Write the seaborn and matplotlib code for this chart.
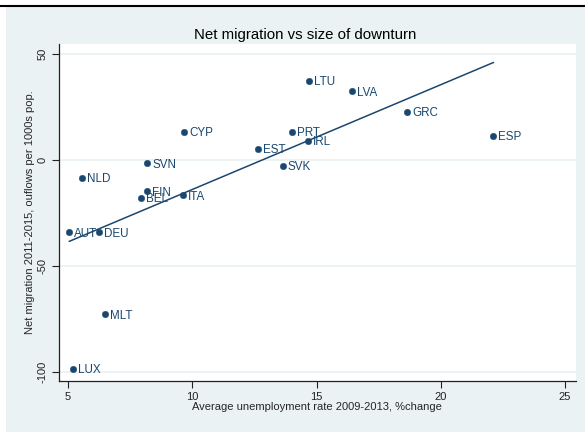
import matplotlib
matplotlib.use("Agg")
import matplotlib.pyplot as plt
from matplotlib.patches import Rectangle
from matplotlib.lines import Line2D
import numpy as np
import pandas as pd
import seaborn as sns

# Country codes, change in average unemployment rate and net migration
countries = ["AUT", "BEL", "CYP", "DEU", "ESP", "EST", "FIN", "GRC", "IRL",
             "ITA", "LTU", "LUX", "LVA", "MLT", "NLD", "PRT", "SVK", "SVN"]
unemp_change = [5.05, 7.92, 9.67, 6.26, 22.12, 12.64, 8.19, 18.65, 14.65,
                9.61, 14.68, 5.19, 16.41, 6.51, 5.56, 14.02, 13.64, 8.19]
net_migration = [-34.2, -18.0, 13.4, -34.2, 11.3, 5.3, -14.8, 22.8, 9.0,
                 -16.7, 37.5, -98.6, 32.5, -72.9, -8.5, 13.4, -2.7, -1.6]

x_ticks = [5, 10, 15, 20, 25]
y_ticks = [-100, -50, 0, 50]

df = pd.DataFrame({"country": countries, "unemp": unemp_change, "netmig": net_migration})

sns.set_style("ticks")
plt.rcParams["font.family"] = ["Liberation Sans", "DejaVu Sans"]

navy = "#1A476F"
bg = "#EAF2F3"

fig = plt.figure(figsize=(5.85, 4.32), dpi=100, facecolor="white")
fig.patches.append(Rectangle((6 / 585, 0), 1 - 6 / 585, (432 - 7) / 432,
                             transform=fig.transFigure, facecolor=bg,
                             edgecolor="none", zorder=-10))
fig.lines.append(Line2D([0, 1], [(432 - 6) / 432] * 2, transform=fig.transFigure,
                        color="black", lw=1.5, zorder=-5))

ax = fig.add_axes([58.5 / 585, 51 / 432, (576 - 58.5) / 585, (381 - 44) / 432])
ax.set_facecolor("white")

for yv in y_ticks:
    ax.axhline(yv, color=bg, lw=1.3, zorder=0)

sns.regplot(data=df, x="unemp", y="netmig", scatter=False, ci=None, ax=ax,
            line_kws=dict(color=navy, lw=1.1), truncate=True)
sns.scatterplot(data=df, x="unemp", y="netmig", ax=ax, color=navy, s=22,
                edgecolor=navy, linewidth=0.3, zorder=3)

for c, xv, yv in zip(countries, unemp_change, net_migration):
    ax.annotate(c, (xv, yv), xytext=(3.6, -1.0), textcoords="offset points",
                ha="left", va="center", fontsize=8.4, color=navy, zorder=4)

ax.set_xlim(4.62, 25.44)
ax.set_ylim(-104.4, 54.8)
ax.set_xticks(x_ticks)
ax.set_yticks(y_ticks)
ax.set_yticklabels([str(v) for v in y_ticks], rotation=90, va="center")
ax.tick_params(axis="both", direction="out", length=5, width=0.8,
               labelsize=8, colors="#222222", pad=3)
for side in ["top", "right"]:
    ax.spines[side].set_visible(False)
for side in ["left", "bottom"]:
    ax.spines[side].set_color("#222222")
    ax.spines[side].set_linewidth(0.9)

ax.set_xlabel("Average unemployment rate 2009-2013, %change", fontsize=8, labelpad=0)
ax.set_ylabel("Net migration 2011-2015, ouflows per 1000s pop.", fontsize=8, labelpad=2)

fig.text(305 / 585, 1 - 35 / 432, "Net migration vs size of downturn",
         ha="center", va="center", fontsize=10.8, color="black")

fig.savefig("out.png", dpi=100, facecolor=fig.get_facecolor())
